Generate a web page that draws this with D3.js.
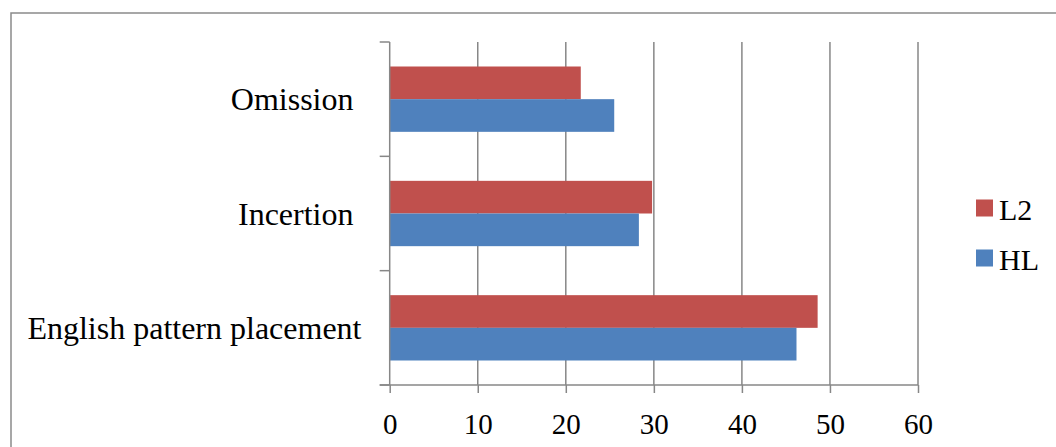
<!DOCTYPE html>
<html>
<head>
<meta charset="utf-8">
<script src="https://cdn.jsdelivr.net/npm/d3@7"></script>
<style>
  html, body { margin: 0; padding: 0; background: #fff; }
  svg { display: block; }
  text { font-family: "Liberation Serif", "Times New Roman", serif; fill: #000; }
</style>
</head>
<body>
<svg id="chart" width="1056" height="447"></svg>
<script>
// Categories, top to bottom (trailing spaces kept as in the source labels)
const categories = ["Omission ", "Incertion ", "English pattern placement"];
const seriesNames = ["L2", "HL"];
const l2Values = [21.7, 29.8, 48.6];
const hlValues = [25.5, 28.3, 46.2];
const xTicks = [0, 10, 20, 30, 40, 50, 60];
const colors = { L2: "#C0504D", HL: "#4F81BD" };

const svg = d3.select("#chart");
const gridColor = "#878787";

// Outer chart frame
svg.append("rect")
  .attr("x", 11).attr("y", 13)
  .attr("width", 1200).attr("height", 600)
  .attr("fill", "none").attr("stroke", "#8a8a8a").attr("stroke-width", 1.5);

const plot = { left: 389.7, right: 918, top: 42, bottom: 385 };

const x = d3.scaleLinear().domain([0, 60]).range([plot.left, plot.right]);
const y = d3.scaleBand().domain(categories).range([plot.top, plot.bottom]).padding(0);
const ySub = d3.scaleBand().domain(seriesNames).range([0, y.bandwidth()])
  .paddingInner(0).paddingOuter(0.75);

// Vertical gridlines
svg.append("g").selectAll("line")
  .data(xTicks.filter(d => d > 0))
  .join("line")
  .attr("x1", d => x(d)).attr("x2", d => x(d))
  .attr("y1", plot.top).attr("y2", plot.bottom)
  .attr("stroke", gridColor).attr("stroke-width", 1.5);

// Bars
const rows = categories.map((c, i) => ({ cat: c, L2: l2Values[i], HL: hlValues[i] }));
const groups = svg.append("g").selectAll("g")
  .data(rows).join("g")
  .attr("transform", d => `translate(0,${y(d.cat)})`);
groups.selectAll("rect")
  .data(d => seriesNames.map(s => ({ s, v: d[s] })))
  .join("rect")
  .attr("x", x(0))
  .attr("y", d => ySub(d.s))
  .attr("width", d => x(d.v) - x(0))
  .attr("height", ySub.bandwidth())
  .attr("fill", d => colors[d.s]);

// X axis
const xAxis = svg.append("g")
  .attr("transform", `translate(0,${plot.bottom})`)
  .call(d3.axisBottom(x).tickValues(xTicks).tickSize(8).tickSizeOuter(0).tickPadding(20));
xAxis.select(".domain").remove();
xAxis.selectAll(".tick line").attr("stroke", gridColor).attr("stroke-width", 1.5);
xAxis.selectAll(".tick text").style("font-size", "29px")
  .attr("font-family", null).attr("dy", "0.71em");
xAxis.attr("font-family", null).attr("font-size", null);
svg.append("line")
  .attr("x1", plot.left - 10).attr("x2", plot.right)
  .attr("y1", plot.bottom).attr("y2", plot.bottom)
  .attr("stroke", gridColor).attr("stroke-width", 1.5);

// Y axis line and category boundary ticks
svg.append("line")
  .attr("x1", plot.left).attr("x2", plot.left)
  .attr("y1", plot.top).attr("y2", plot.bottom)
  .attr("stroke", gridColor).attr("stroke-width", 1.5);
const bounds = categories.map(c => y(c)).concat([plot.bottom]);
svg.append("g").selectAll("line")
  .data(bounds).join("line")
  .attr("x1", plot.left - 10).attr("x2", plot.left)
  .attr("y1", d => d).attr("y2", d => d)
  .attr("stroke", gridColor).attr("stroke-width", 1.5);

// Category labels
svg.append("g").selectAll("text")
  .data(categories).join("text")
  .attr("x", 361.5)
  .attr("y", d => y(d) + y.bandwidth() / 2)
  .attr("dy", "0.35em")
  .attr("text-anchor", "end")
  .style("white-space", "pre")
  .style("font-size", "32px")
  .text(d => d);

// Legend
const legend = svg.append("g").selectAll("g")
  .data(seriesNames).join("g")
  .attr("transform", (d, i) => `translate(976,${199.5 + i * 50})`);
legend.append("rect")
  .attr("width", 17).attr("height", 17)
  .attr("fill", d => colors[d]);
legend.append("text")
  .attr("x", 23).attr("y", 20)
  .style("font-size", "30px")
  .text(d => d);
</script>
</body>
</html>
